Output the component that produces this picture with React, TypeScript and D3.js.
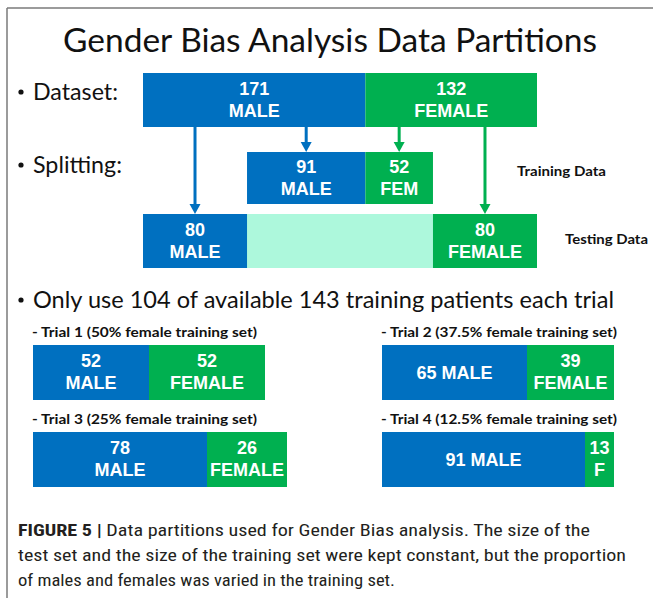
import React from "react";
import * as d3 from "d3";

const W = 653;
const H = 598;

const titleText = "Gender Bias Analysis Data Partitions";
const bulletTexts = ["Dataset:", "Splitting:", "Only use 104 of available 143 training patients each trial"];

const datasetCounts = [171, 132];
const datasetLabels = [["171", "MALE"], ["132", "FEMALE"]];
const trainingCounts = [91, 52];
const trainingLabels = [["91", "MALE"], ["52", "FEM"]];
const testingCounts = [80, 80];
const testingLabels = [["80", "MALE"], ["80", "FEMALE"]];
const rowNames = ["Training Data", "Testing Data"];

const trialTitles = [
  "- Trial 1 (50% female training set)",
  "- Trial 2 (37.5% female training set)",
  "- Trial 3 (25% female training set)",
  "- Trial 4 (12.5% female training set)",
];
const trialMale = [52, 65, 78, 91];
const trialFemale = [52, 39, 26, 13];
const trialMaleLabels = [["52", "MALE"], ["65 MALE"], ["78", "MALE"], ["91 MALE"]];
const trialFemaleLabels = [["52", "FEMALE"], ["39", "FEMALE"], ["26", "FEMALE"], ["13", "F"]];

const captionBold = "FIGURE 5 |";
const captionLines = [
  " Data partitions used for Gender Bias analysis. The size of the",
  "test set and the size of the training set were kept constant, but the proportion",
  "of males and females was varied in the training set.",
];

const BLUE = "#0070c0";
const GREEN = "#00b050";
const MINT = "#adf8dc";
const BAR_FONT = "'Liberation Sans', Arial, sans-serif";
const CAL_FONT = "Lato, 'Open Sans', sans-serif";
const CAP_FONT = "'Liberation Sans Narrow', 'Roboto Condensed', Roboto, sans-serif";

function BarLabel({ cx, cy, lines }: { cx: number; cy: number; lines: string[] }) {
  const offsets = lines.length === 2 ? [-5.5, 16.5] : [6];
  return (
    <text textAnchor="middle" fill="#fff" fontFamily={BAR_FONT} fontWeight="bold" fontSize={18}>
      {lines.map((l, i) => (
        <tspan key={i} x={cx} y={cy + offsets[i]}>
          {l}
        </tspan>
      ))}
    </text>
  );
}

function Arrow({ x, y1, y2, color }: { x: number; y1: number; y2: number; color: string }) {
  const hw = 5.5;
  const hh = 10;
  return (
    <g>
      <line x1={x} x2={x} y1={y1} y2={y2 - hh + 1} stroke={color} strokeWidth={3} />
      <path d={`M${x - hw},${y2 - hh} L${x + hw},${y2 - hh} L${x},${y2} Z`} fill={color} />
    </g>
  );
}

export default function App() {
  const total = d3.sum(datasetCounts);
  const x = d3.scaleLinear().domain([0, total]).range([143, 537]);

  const rowY = { dataset: 73, training: 152, testing: 214 };
  const rowH = 54;

  const dsStarts = [0, datasetCounts[0]];
  const trStart = testingCounts[0];
  const trStarts = [trStart, trStart + trainingCounts[0]];
  const trainEnd = trStart + d3.sum(trainingCounts);
  const teStarts = [0, total - testingCounts[1]];

  const trialTotal = trialMale[0] + trialFemale[0];
  const tx = d3.scaleLinear().domain([0, trialTotal]).range([0, 232]);
  const colX = [33, 382];
  const trialTop = [345, 432];
  const trialH = 55;
  const MIN_LABEL_W = 80;

  const dsCenter = (i: number) => (x(dsStarts[i]) + x(dsStarts[i] + datasetCounts[i])) / 2;
  const trCenter = (i: number) => (x(trStarts[i]) + x(trStarts[i] + trainingCounts[i])) / 2;
  const teCenter = (i: number) => (x(teStarts[i]) + x(teStarts[i] + testingCounts[i])) / 2;

  const bulletRows = [
    { y: 100, len: 85 },
    { y: 173, len: 89 },
    { y: 308, len: 581 },
  ];

  return (
    <svg width={W} height={H} style={{ position: "absolute", left: 0, top: 0, background: "#fff" }}>
      <rect x={0} y={0} width={W} height={H} fill="#fff" />
      <line x1={7} x2={W} y1={8} y2={8} stroke="#7a7a7a" strokeWidth={1.5} />
      <line x1={7} x2={7} y1={8} y2={H} stroke="#7a7a7a" strokeWidth={1.5} />

      <text x={330} y={52} textAnchor="middle" fontFamily={CAL_FONT} fontSize={32} fill="#111"
        textLength={534} lengthAdjust="spacingAndGlyphs">
        {titleText}
      </text>

      {bulletTexts.map((t, i) => (
        <g key={"b" + i}>
          <circle cx={21} cy={bulletRows[i].y - 8} r={2.6} fill="#111" />
          <text x={33} y={bulletRows[i].y} fontFamily={CAL_FONT} fontSize={24} fill="#111"
            textLength={bulletRows[i].len} lengthAdjust="spacingAndGlyphs">
            {t}
          </text>
        </g>
      ))}

      <Arrow x={teCenter(0)} y1={rowY.dataset + rowH} y2={rowY.testing} color={BLUE} />
      <Arrow x={trCenter(0)} y1={rowY.dataset + rowH} y2={rowY.training} color={BLUE} />
      <Arrow x={trCenter(1)} y1={rowY.dataset + rowH} y2={rowY.training} color={GREEN} />
      <Arrow x={teCenter(1)} y1={rowY.dataset + rowH} y2={rowY.testing} color={GREEN} />

      {datasetCounts.map((c, i) => (
        <g key={"ds" + i}>
          <rect x={x(dsStarts[i])} y={rowY.dataset} width={x(dsStarts[i] + c) - x(dsStarts[i])} height={rowH}
            fill={i === 0 ? BLUE : GREEN} />
          <BarLabel cx={dsCenter(i)} cy={rowY.dataset + rowH / 2} lines={datasetLabels[i]} />
        </g>
      ))}

      {trainingCounts.map((c, i) => (
        <g key={"tr" + i}>
          <rect x={x(trStarts[i])} y={rowY.training} width={x(trStarts[i] + c) - x(trStarts[i])} height={rowH - 2}
            fill={i === 0 ? BLUE : GREEN} />
          <BarLabel cx={trCenter(i)} cy={rowY.training + (rowH - 2) / 2} lines={trainingLabels[i]} />
        </g>
      ))}

      <rect x={x(testingCounts[0])} y={rowY.testing} width={x(trainEnd) - x(testingCounts[0])} height={rowH} fill={MINT} />
      {testingCounts.map((c, i) => (
        <g key={"te" + i}>
          <rect x={x(teStarts[i])} y={rowY.testing} width={x(teStarts[i] + c) - x(teStarts[i])} height={rowH}
            fill={i === 0 ? BLUE : GREEN} />
          <BarLabel cx={teCenter(i)} cy={rowY.testing + rowH / 2} lines={testingLabels[i]} />
        </g>
      ))}

      <text x={517} y={176} fontFamily={CAL_FONT} fontWeight="bold" fontSize={14} fill="#111"
        textLength={89} lengthAdjust="spacingAndGlyphs">{rowNames[0]}</text>
      <text x={565} y={244} fontFamily={CAL_FONT} fontWeight="bold" fontSize={14} fill="#111"
        textLength={83} lengthAdjust="spacingAndGlyphs">{rowNames[1]}</text>

      {trialTitles.map((t, i) => {
        const col = i % 2;
        const row = Math.floor(i / 2);
        const x0 = colX[col];
        const top = trialTop[row];
        const mw = tx(trialMale[i]);
        const fwRaw = tx(trialFemale[i]);
        const fw = trialFemaleLabels[i].includes("FEMALE") ? Math.max(fwRaw, MIN_LABEL_W) : fwRaw;
        return (
          <g key={"trial" + i}>
            <text x={x0 - 1} y={top - 8} fontFamily={CAL_FONT} fontWeight="bold" fontSize={14} fill="#111"
              textLength={col === 0 ? 225 : 236} lengthAdjust="spacingAndGlyphs">
              {t}
            </text>
            <rect x={x0} y={top} width={mw} height={trialH} fill={BLUE} />
            <rect x={x0 + mw} y={top} width={fw} height={trialH} fill={GREEN} />
            <BarLabel cx={x0 + mw / 2} cy={top + trialH / 2} lines={trialMaleLabels[i]} />
            <BarLabel cx={x0 + mw + fw / 2} cy={top + trialH / 2} lines={trialFemaleLabels[i]} />
          </g>
        );
      })}

      <text x={18} y={536} fontFamily={CAP_FONT} fontSize={17} fill="#231f20"
        textLength={572} lengthAdjust="spacingAndGlyphs">
        <tspan fontWeight="bold">{captionBold}</tspan>
        <tspan>{captionLines[0]}</tspan>
      </text>
      <text x={18} y={561} fontFamily={CAP_FONT} fontSize={17} fill="#231f20"
        textLength={608} lengthAdjust="spacingAndGlyphs">
        {captionLines[1]}
      </text>
      <text x={18} y={586} fontFamily={CAP_FONT} fontSize={17} fill="#231f20"
        textLength={377} lengthAdjust="spacingAndGlyphs">
        {captionLines[2]}
      </text>
    </svg>
  );
}
